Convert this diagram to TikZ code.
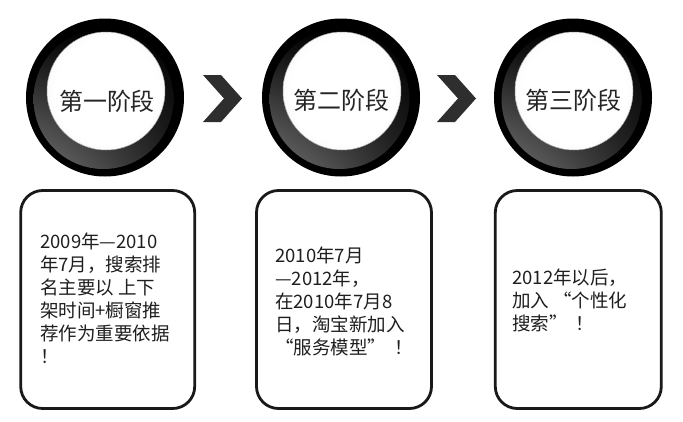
\documentclass[tikz,border=0pt]{standalone}
\usepackage{fontspec}
\newfontfamily\cjk{Noto Sans CJK SC}
\usetikzlibrary{calc,shadings}
\pgfdeclareradialshading{discshade}{\pgfpoint{0bp}{0bp}}{color(0bp)=(white); color(22bp)=(white); color(40bp)=(black!10); color(47bp)=(black!28); color(50bp)=(black!45)}
\begin{document}
\begin{tikzpicture}[x=1pt,y=-1pt,
  stagetext/.style={inner sep=0pt, font=\cjk\fontsize{24}{28}\selectfont, text=black!85},
  stagebox/.style={draw=black!90, line width=2.8pt, rounded corners=22pt, minimum height=218pt, inner sep=0pt},
  boxtext/.style={anchor=north west, inner sep=0pt, align=left, font=\cjk\fontsize{18.5}{23}\selectfont, text=black!88},
  chevron/.style={fill=black!82},
  ringouter/.style={fill=black},
  ringmid/.style={upper left=black, upper right=black, lower left=black!55, lower right=black!88},
  disc/.style={shading=discshade, draw=black!35, line width=0.5pt}]
\useasboundingbox (0,0) rectangle (683,421);
\fill[white] (0,0) rectangle (683,421);

% stage circles
\foreach \n/\x in {1/105,2/341,3/573}{
  \coordinate (c\n) at (\x,97.5);
  \fill[ringouter] (c\n) circle (79);
  \shade[ringmid] ($(c\n)+(-1.5,1.5)$) circle (70);
  \shade[disc] ($(c\n)+(1,-6.5)$) circle (59);
}
\node[stagetext] (s1) at ($(c1)+(2,4)$) {第一阶段};
\node[stagetext] (s2) at ($(c2)+(0,3)$) {第二阶段};
\node[stagetext] (s3) at ($(c3)+(0,3)$) {第三阶段};

% chevrons
\foreach \x in {203,437}{
  \fill[chevron] (\x,75) -- (\x+18,75) -- (\x+39,98.5) -- (\x+18,122) -- (\x,122) -- (\x+21,98.5) -- cycle;
}

% boxes
\node[stagebox, minimum width=174pt] (b1) at (107.7,299.5) {};
\node[stagebox, minimum width=175pt] (b2) at (344,299.5) {};
\node[stagebox, minimum width=166pt] (b3) at (578.3,299.5) {};

\node[boxtext] (t1) at (40,233) {2009年—2010\\年7月，搜索排\\名主要以 上下\\架时间+橱窗推\\荐作为重要依据\\！};
\node[boxtext] (t2) at (275,247) {2010年7月\\—2012年，\\在2010年7月8\\日，淘宝新加入\\“服务模型”\ \ ！};
\node[boxtext] (t3) at (512,268.5) {2012年以后，\\加入 “个性化\\搜索”\ \ ！};
\end{tikzpicture}
\end{document}
